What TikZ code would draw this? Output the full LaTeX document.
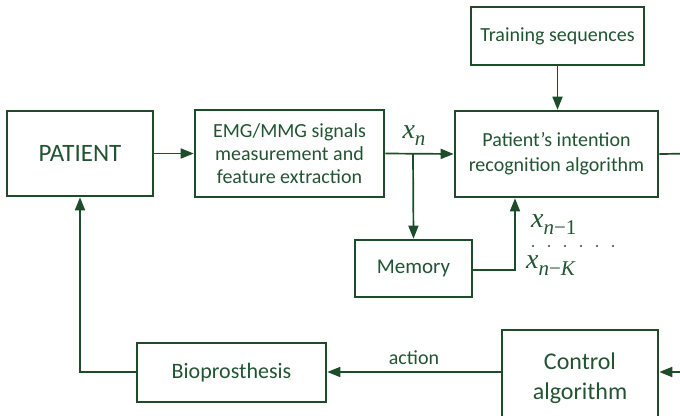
\documentclass[tikz,border=0pt]{standalone}
\usepackage{fontspec}
\setmainfont{Carlito}
\newfontfamily\tms{Liberation Serif}
\usetikzlibrary{arrows.meta}
\definecolor{edge}{RGB}{28,76,42}
\definecolor{ink}{RGB}{34,84,50}
\tikzset{
  blk/.style={draw=edge, line width=2.6pt, rectangle, align=center, text=ink,
              inner sep=0pt, font=\fontsize{20}{23}\selectfont},
  wire/.style={draw=edge, line width=1.7pt},
  arr/.style={wire, -{Triangle[length=13pt,width=10pt]}},
  dot/.style={circle, fill=ink, inner sep=0pt, minimum size=2.4pt},
}
% italic variable with a subscript
\newcommand{\varsub}[1]{{\tms\fontsize{28}{28}\selectfont\itshape x}\raisebox{-7pt}{\tms\fontsize{21}{21}\selectfont #1}}
\begin{document}
\begin{tikzpicture}[x=1pt,y=-1pt]
\useasboundingbox (0,0) rectangle (680,415);

% blocks
\node[blk, minimum width=146pt, minimum height=85pt, font=\fontsize{25}{28}\selectfont] (patient) at (80,153.5) {PATIENT};
\node[blk, minimum width=189pt, minimum height=87pt] (emg) at (289.5,153.5)
  {EMG/MMG signals\\measurement and\\feature extraction};
\node[blk, minimum width=203pt, minimum height=86pt, font=\fontsize{20}{25}\selectfont] (intent) at (556.5,154)
  {Patient’s intention\\recognition algorithm};
\node[blk, minimum width=173pt, minimum height=58pt] (train) at (557.5,36) {Training sequences};
\node[blk, minimum width=117pt, minimum height=57pt, font=\fontsize{21}{24}\selectfont] (memory) at (413.5,268.5) {Memory};
\node[blk, minimum width=189pt, minimum height=59pt, font=\fontsize{22}{25}\selectfont] (bio) at (231.5,372.5) {Bioprosthesis};
\node[blk, minimum width=156pt, minimum height=96pt, font=\fontsize{24}{30}\selectfont] (control) at (580,378)
  {Control\\algorithm};

% free ends and bends
\coordinate (branch) at (413,153.5);
\coordinate (outR) at (700,153.5);
\coordinate (inR) at (700,372);
\coordinate (memturn) at (515,270);
\coordinate (bioturn) at (80,372);

% connectors
\draw[arr] (patient.east) -- (emg.west);
\draw[arr] (emg.east) -- (intent.west);
\draw[arr] (branch) -- (memory.north);
\draw[arr] (memory.east |- memturn) -- (memturn) -- (memturn |- intent.south);
\draw[arr] (train.south) -- (train.south |- intent.north);
\draw[wire] (intent.east) -- (outR);
\draw[arr] (inR) -- (control.east |- inR);
\draw[arr] (control.west |- inR) -- node[above=3pt, text=ink, font=\fontsize{20}{23}\selectfont] {action} (bio.east |- inR);
\draw[arr] (bio.west |- bioturn) -- (bioturn) -- (patient.south);

% signal labels
\node[text=ink, inner sep=0pt] (xn) at (414,136) {\varsub{\itshape n}};
\node[text=ink, inner sep=0pt, anchor=west] (xn1) at (531,225) {\varsub{{\itshape n}−1}};
\foreach \i in {0,...,5} \node[dot] (d\i) at (533+16*\i,246) {};
\node[text=ink, inner sep=0pt, anchor=west] (xnK) at (526,266) {\varsub{{\itshape n}−{\itshape K}}};
\end{tikzpicture}
\end{document}
